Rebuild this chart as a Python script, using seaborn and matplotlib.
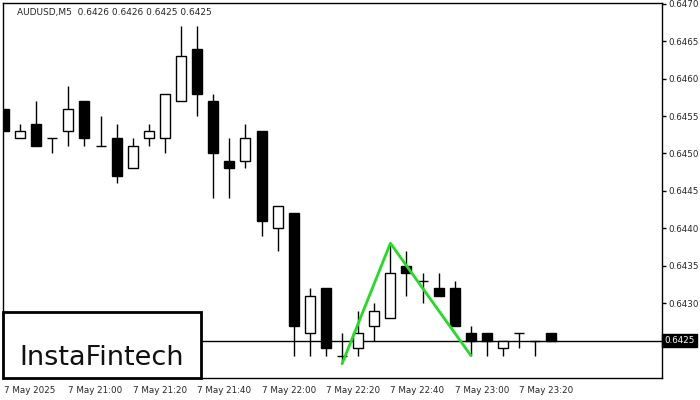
import matplotlib
matplotlib.use("Agg")
import matplotlib.pyplot as plt
import seaborn as sns
import pandas as pd
from matplotlib.patches import Rectangle

opens  = [.6456,.6452,.6454,.6452,.6453,.6457,.6451,.6452,.6448,.6452,.6452,.6457,.6464,.6457,.6449,.6449,
          .6453,.6440,.6442,.6426,.6432,.6423,.6424,.6427,.6428,.6435,.6433,.6432,.6432,.6426,.6426,.6424,.6426,.6425,.6426]
highs  = [.6456,.6454,.6457,.6452,.6459,.6457,.6455,.6454,.6452,.6454,.6458,.6467,.6467,.6458,.6452,.6454,
          .6453,.6443,.6442,.6432,.6432,.6426,.6429,.6430,.6438,.6437,.6434,.6434,.6433,.6427,.6426,.6425,.6426,.6425,.6426]
lows   = [.6453,.6452,.6451,.6450,.6451,.6451,.6451,.6446,.6448,.6451,.6450,.6457,.6455,.6444,.6444,.6448,
          .6439,.6437,.6423,.6423,.6423,.6422,.6423,.6425,.6428,.6431,.6430,.6431,.6427,.6423,.6423,.6423,.6424,.6423,.6425]
closes = [.6453,.6453,.6451,.6452,.6456,.6452,.6451,.6447,.6451,.6453,.6458,.6463,.6458,.6450,.6448,.6452,
          .6441,.6443,.6427,.6431,.6424,.6423,.6426,.6429,.6434,.6434,.6433,.6431,.6427,.6425,.6425,.6425,.6426,.6425,.6425]
pattern_idx = [21, 24, 29]
pattern_price = [0.64219, 0.64380, 0.64230]
current_price = 0.6425
yticks = [0.6425, 0.6430, 0.6435, 0.6440, 0.6445, 0.6450, 0.6455, 0.6460, 0.6465, 0.6470]
xtick_pos = [0, 4, 8, 12, 16, 20, 24, 28, 32]
xtick_labels = ["7 May 2025", "7 May 21:00", "7 May 21:20", "7 May 21:40", "7 May 22:00",
                "7 May 22:20", "7 May 22:40", "7 May 23:00", "7 May 23:20"]

sns.set_style("white")
plt.rcParams['font.family'] = ['DejaVu Sans']
fig = plt.figure(figsize=(7, 4), dpi=100)
ax = fig.add_axes([3/700, 22/400, 659/700, 375/400])
ax.set_xlim(-0.06, 40.87)
ax.set_ylim(0.64200, 0.64701)

w = 0.62
for i, (o, h, l, c) in enumerate(zip(opens, highs, lows, closes)):
    ax.vlines(i, l, h, color="black", lw=1, zorder=2)
    lo, hi = min(o, c), max(o, c)
    if hi - lo < 1e-6:
        ax.hlines(o, i - w/2, i + w/2, color="black", lw=1, zorder=3)
    else:
        fc = "white" if c > o else "black"
        ax.add_patch(Rectangle((i - w/2, lo), w, hi - lo, facecolor=fc, edgecolor="black", lw=1, zorder=3))

ax.axhline(current_price, color="black", lw=1, zorder=1)
df = pd.DataFrame({"x": pattern_idx, "y": pattern_price})
sns.lineplot(data=df, x="x", y="y", ax=ax, color="#22dd22", lw=2, sort=False, zorder=4)
ax.set_xlabel(""); ax.set_ylabel("")

ax.yaxis.tick_right()
ax.set_yticks(yticks)
ax.set_yticklabels([f"{v:.4f}" if v != current_price else "" for v in yticks], fontsize=6.3)
ax.set_xticks(xtick_pos)
ax.set_xticklabels(xtick_labels, fontsize=6.3, ha="left")
ax.tick_params(axis="both", direction="out", length=3, width=1, color="black", pad=1.5)
ax.tick_params(axis="x", pad=3)
for s in ax.spines.values():
    s.set_color("black"); s.set_linewidth(1)

# current price label
ax.text(1.0035, current_price, f"{current_price:.4f}", transform=ax.get_yaxis_transform(),
        fontsize=6.3, color="white", va="center", ha="left",
        bbox=dict(boxstyle="square,pad=0.25", fc="black", ec="black"), clip_on=False, zorder=10)

fig.text(17/700, 1 - 12/400, "AUDUSD,M5  0.6426 0.6426 0.6425 0.6425", fontsize=6.5, va="center", ha="left")

# logo
fig.patches.append(Rectangle((3/700, 22/400), 198/700, 66/400, transform=fig.transFigure,
                             facecolor="white", edgecolor="black", lw=2, zorder=20))
fig.text(102/700, 1 - 358/400, "InstaFintech", fontsize=19.5, ha="center", va="center", zorder=21,
         color="#111111")

fig.savefig("out.png", dpi=100)
